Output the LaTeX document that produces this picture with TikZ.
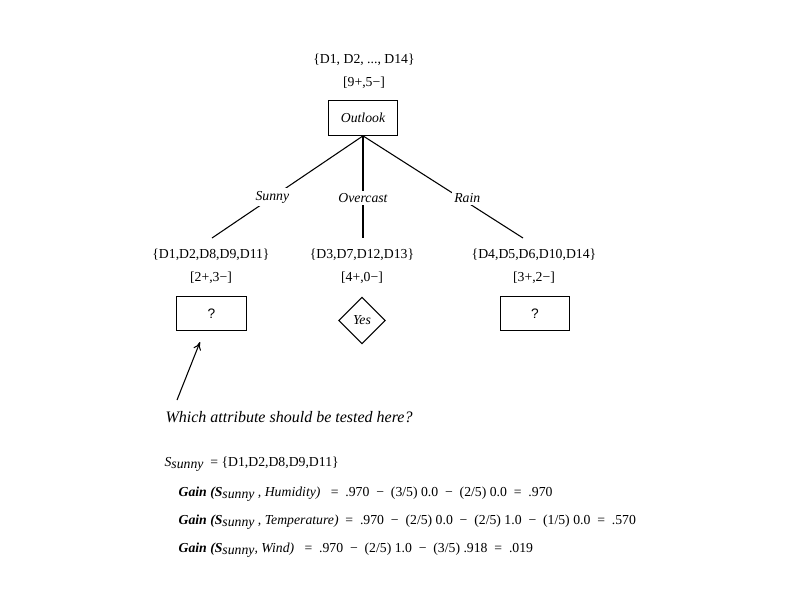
\documentclass[tikz,border=0pt]{standalone}
\usepackage{fontspec}
\setmainfont{Liberation Serif}
\newfontfamily\qfont{Liberation Sans}
\usetikzlibrary{shapes.geometric,arrows.meta}
\begin{document}
\begin{tikzpicture}[x=0.75pt,y=-0.75pt,
  every node/.style={font=\fontsize{10.3}{12}\selectfont, inner sep=1pt},
  attrbox/.style={draw, line width=0.8pt, minimum width=52pt, minimum height=26pt, inner sep=0pt},
  leaf/.style={draw, diamond, line width=0.8pt, minimum width=35pt, minimum height=35pt, inner sep=0pt},
  branch/.style={line width=0.8pt},
  blabel/.style={fill=white, inner sep=2pt, font=\fontsize{10.3}{12}\selectfont\itshape},
  eq/.style={anchor=base west}
]
\useasboundingbox (0,0) rectangle (792,612);

% root
\node (rootset) at (364,60) {\{D1, D2, ..., D14\}};
\node (rootcnt) at (364,83) {[9+,5\textminus]};
\node[attrbox] (outlook) at (363,118) {\itshape Outlook};

% children
\node (lset) at (211,255) {\{D1,D2,D8,D9,D11\}};
\node (lcnt) at (211,278) {[2+,3\textminus]};
\node[attrbox] (lbox) at (211.5,313.5) {\qfont ?};

\node (mset) at (362,255) {\{D3,D7,D12,D13\}};
\node (mcnt) at (362,278) {[4+,0\textminus]};
\node[leaf] (yes) at (362,320.5) {\itshape Yes};

\node (rset) at (534,255) {\{D4,D5,D6,D10,D14\}};
\node (rcnt) at (534,278) {[3+,2\textminus]};
\node[attrbox] (rbox) at (535,313.5) {\qfont ?};

% branch ends
\coordinate (le) at (212,238);
\coordinate (me) at (363,238);
\coordinate (re) at (523,238);

\draw[branch] (outlook.south) -- node[blabel, pos=0.6] {Sunny} (le);
\draw[branch] (outlook.south) -- node[blabel, pos=0.61] {Overcast} (me);
\draw[branch] (outlook.south) -- node[blabel, pos=0.61, xshift=5pt] {Rain} (re);

% question
\node[anchor=west, font=\fontsize{12}{14}\selectfont\itshape] (question) at (164,417) {Which attribute should be tested here?};
\coordinate (qa) at (177,400);
\coordinate (qb) at (200,342);
\draw[line width=0.8pt, -{To[length=6pt,width=6pt]}] (qa) -- (qb);

% equations
\node[eq] (ssunny) at (163,466) {\itshape S\raisebox{-0.4ex}{\textit{sunny}}\upshape\ \ = \{D1,D2,D8,D9,D11\}};
\node[eq] (g1) at (177,496) {\textbf{\textit{Gain (S}}\raisebox{-0.4ex}{\textit{sunny}}\textit{ , Humidity)}\ \ \ = \ .970 \ \textminus\ \ (3/5) 0.0 \ \textminus\ \ (2/5) 0.0 \ = \ .970};
\node[eq] (g2) at (177,524) {\textbf{\textit{Gain (S}}\raisebox{-0.4ex}{\textit{sunny}}\textit{ , Temperature)}\ \ = \ .970 \ \textminus\ \ (2/5) 0.0 \ \textminus\ \ (2/5) 1.0 \ \textminus\ \ (1/5) 0.0 \ = \ .570};
\node[eq] (g3) at (177,552) {\textbf{\textit{Gain (S}}\raisebox{-0.4ex}{\textit{sunny}}\textit{, Wind)}\ \ \ = \ .970 \ \textminus\ \ (2/5) 1.0 \ \textminus\ \ (3/5) .918 \ = \ .019};
\end{tikzpicture}
\end{document}
